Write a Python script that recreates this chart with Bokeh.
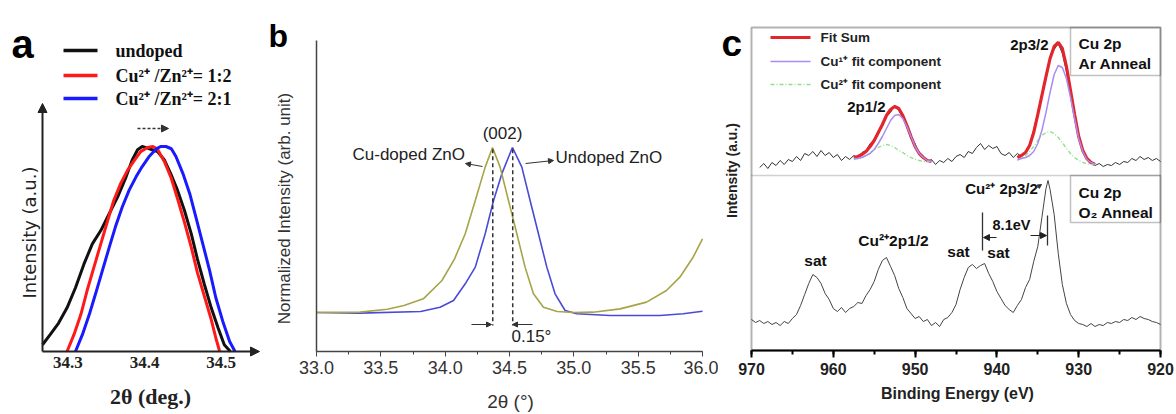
import math
from bokeh.plotting import figure
from bokeh.models import (Range1d, Label, Arrow, NormalHead, FixedTicker, LinearAxis,
                          SingleIntervalTicker, BoxAnnotation, PrintfTickFormatter)
from bokeh.layouts import row
from bokeh.embed import file_html
from bokeh.resources import INLINE

nan = float("nan")

# ---------------- panel a data ----------------
a_legend = ["undoped", "Cu²⁺ /Zn²⁺= 1:2", "Cu²⁺ /Zn²⁺= 2:1"]
a_colors = ["#111111", "#ff1a1a", "#1a1aff"]
a_ticks = [34.3, 34.4, 34.5]

a_undoped_x = [34.267, 34.277, 34.288, 34.299, 34.310, 34.321, 34.332, 34.343, 34.354, 34.365,
               34.376, 34.384, 34.391, 34.397, 34.404, 34.410, 34.417, 34.426, 34.434, 34.443,
               34.452, 34.461, 34.469, 34.478, 34.487, 34.496, 34.504, 34.512]
a_undoped_y = [0.033, 0.082, 0.139, 0.213, 0.311, 0.426, 0.525, 0.590, 0.672, 0.754,
               0.852, 0.934, 0.984, 1.000, 0.992, 0.984, 0.975, 0.934, 0.869, 0.787,
               0.689, 0.574, 0.451, 0.328, 0.213, 0.115, 0.033, 0.000]

a_12_x = [34.299, 34.308, 34.317, 34.325, 34.334, 34.343, 34.352, 34.360, 34.369, 34.378,
          34.387, 34.395, 34.404, 34.411, 34.417, 34.426, 34.435, 34.443, 34.452, 34.461,
          34.469, 34.478, 34.487, 34.493, 34.498]
a_12_y = [0.000, 0.082, 0.180, 0.295, 0.410, 0.525, 0.639, 0.738, 0.820, 0.885,
          0.934, 0.975, 0.995, 1.000, 0.987, 0.926, 0.844, 0.746, 0.631, 0.508,
          0.385, 0.270, 0.156, 0.066, 0.000]

a_21_x = [34.310, 34.319, 34.328, 34.336, 34.345, 34.354, 34.362, 34.371, 34.380, 34.389,
          34.397, 34.406, 34.415, 34.421, 34.428, 34.435, 34.441, 34.450, 34.459, 34.467,
          34.476, 34.485, 34.493, 34.502, 34.511, 34.518]
a_21_y = [0.000, 0.082, 0.180, 0.279, 0.393, 0.508, 0.607, 0.705, 0.787, 0.852,
          0.902, 0.951, 0.987, 1.000, 1.000, 0.989, 0.951, 0.869, 0.770, 0.656,
          0.525, 0.393, 0.262, 0.148, 0.049, 0.000]

# ---------------- panel b data ----------------
b_cu_x = [33.00, 33.34, 33.55, 33.68, 33.83, 33.975, 34.07, 34.156, 34.234, 34.311, 34.368,
          34.427, 34.492, 34.557, 34.621, 34.686, 34.764, 34.87, 35.00, 35.15, 35.36,
          35.565, 35.72, 35.824, 35.927, 36.00]
b_cu_y = [0.000, 0.002, 0.020, 0.042, 0.083, 0.194, 0.320, 0.477, 0.679, 0.881, 1.000,
          0.881, 0.679, 0.477, 0.275, 0.113, 0.032, 0.006, 0.000, 0.002, 0.022,
          0.063, 0.133, 0.214, 0.335, 0.446]
b_un_x = [33.00, 33.34, 33.81, 33.96, 34.065, 34.156, 34.234, 34.311, 34.376, 34.44, 34.492,
          34.523, 34.596, 34.66, 34.725, 34.79, 34.854, 34.932, 35.022, 35.281, 35.669,
          35.85, 36.00]
b_un_y = [0.000, -0.004, 0.006, 0.032, 0.073, 0.174, 0.275, 0.477, 0.679, 0.840, 0.941,
          1.000, 0.881, 0.679, 0.477, 0.275, 0.113, 0.012, -0.008, -0.018, -0.018,
          -0.008, 0.008]
b_peaks = [34.37, 34.525]
b_labels = ["Cu-doped ZnO", "Undoped ZnO", "(002)", "0.15°"]

# ---------------- panel c data ----------------
c_ar_ev = [969.0, 968.5, 968.0, 967.5, 967.0, 966.5, 966.0, 965.5, 965.0, 964.5,
           964.0, 963.5, 963.0, 962.5, 962.0, 961.5, 961.0, 960.5, 960.0, 959.5,
           959.0, 958.5, 958.0, 957.5, 957.0, 956.5, 956.0, 955.5, 955.0, 954.5,
           954.0, 953.5, 953.0, 952.5, 952.0, 951.5, 951.0, 950.5, 950.0, 949.5,
           949.0, 948.5, 948.0, 947.5, 947.0, 946.5, 946.0, 945.5, 945.0, 944.5,
           944.0, 943.5, 943.0, 942.5, 942.0, 941.5, 941.0, 940.5, 940.0, 939.5,
           939.0, 938.5, 938.0, 937.5, 937.0, 936.5, 936.0, 935.5, 935.0, 934.5,
           934.0, 933.5, 933.0, 932.5, 932.0, 931.5, 931.0, 930.5, 930.0, 929.5,
           929.0, 928.5, 928.0, 927.5, 927.0, 926.5, 926.0, 925.5, 925.0, 924.5,
           924.0, 923.5, 923.0, 922.5, 922.0, 921.5, 921.0, 920.5, 920.0]
c_ar_int = [183, 187, 182, 188, 185, 190, 186, 191, 189, 194,
            190, 197, 195, 199, 194, 200, 195, 198, 193, 196,
            190, 194, 191, 195, 193, 198, 200, 207, 210, 219,
            224, 234, 238, 245, 240, 233, 225, 212, 207, 196,
            193, 189, 191, 186, 190, 188, 192, 189, 194, 196,
            193, 199, 197, 203, 207, 201, 205, 202, 204, 197,
            195, 198, 193, 197, 194, 199, 206, 221, 238, 257,
            271, 292, 301, 307, 297, 279, 256, 235, 212, 201,
            191, 189, 185, 187, 184, 186, 185, 188, 186, 189,
            188, 192, 190, 194, 191, 193, 190, 192, 189]

c_o2_ev = [970.0, 969.5, 969.0, 968.5, 968.0, 967.5, 967.0, 966.5, 966.0, 965.5,
           965.0, 964.5, 964.0, 963.5, 963.0, 962.5, 962.0, 961.5, 961.0, 960.5,
           960.0, 959.5, 959.0, 958.5, 958.0, 957.5, 957.0, 956.5, 956.0, 955.5,
           955.0, 954.5, 954.0, 953.5, 953.0, 952.5, 952.0, 951.5, 951.0, 950.5,
           950.0, 949.5, 949.0, 948.5, 948.0, 947.5, 947.0, 946.5, 946.0, 945.5,
           945.0, 944.5, 944.0, 943.5, 943.0, 942.5, 942.0, 941.5, 941.0, 940.5,
           940.0, 939.5, 939.0, 938.5, 938.0, 937.5, 937.0, 936.5, 936.0, 935.5,
           935.0, 934.5, 934.0, 933.75, 933.5, 933.0, 932.5, 932.0, 931.5, 931.0,
           930.5, 930.0, 929.5, 929.0, 928.5, 928.0, 927.5, 927.0, 926.5, 926.0,
           925.5, 925.0, 924.5, 924.0, 923.5, 923.0, 922.5, 922.0, 921.5, 921.0,
           920.5, 920.0]
c_o2_int = [31, 28, 30, 27, 29, 26, 28, 25, 29, 27,
            32, 36, 45, 56, 67, 76, 73, 67, 57, 51,
            42, 39, 43, 38, 42, 44, 48, 47, 55, 61,
            69, 81, 90, 93, 84, 75, 62, 53, 42, 37,
            32, 34, 29, 31, 25, 28, 24, 31, 33, 38,
            46, 61, 73, 83, 86, 82, 85, 87, 77, 69,
            59, 52, 45, 41, 38, 45, 51, 63, 71, 89,
            104, 133, 162, 170, 161, 136, 97, 66, 47, 36,
            30, 27, 26, 24, 27, 24, 26, 25, 28, 27,
            29, 28, 31, 30, 33, 31, 34, 32, 31, 29,
            28, 26]

c_fit_ev = [957.5, 957.0, 956.5, 956.0, 955.5, 955.0, 954.5, 954.0, 953.5, 953.0,
            952.5, 952.0, 951.5, 951.0, 950.5, 950.0, 949.5, 949.0, 948.5, 948.0, nan,
            937.5, 937.0, 936.5, 936.0, 935.5, 935.0, 934.5, 934.0, 933.5, 933.0,
            932.5, 932.0, 931.5, 931.0, 930.5, 930.0, 929.5, 929.0, 928.5, 928.0]
c_fit_sum = [193, 194, 196, 199, 204, 210, 218, 226, 235, 241,
             244, 242, 235, 225, 214, 204, 197, 193, 190, 189, nan,
             193, 195, 198, 205, 218, 236, 255, 274, 292, 304,
             308, 302, 284, 260, 236, 214, 200, 192, 188, 186]
c_fit_cu1 = [192, 192, 193, 195, 197, 201, 207, 214, 222, 230,
             235, 236, 232, 224, 214, 204, 197, 193, 190, 189, nan,
             191, 192, 193, 195, 199, 207, 220, 238, 258, 276,
             285, 283, 272, 253, 232, 212, 199, 191, 188, 186]
c_fit_cu2 = [191, 192, 193, 195, 198, 201, 203, 205, 206, 205,
             203, 200, 198, 195, 193, 191, 190, 189, 189, 189, nan,
             190, 192, 195, 199, 204, 210, 215, 218, 219, 217,
             213, 208, 202, 197, 193, 190, 188, 187, 186, 186]
c_legend = ["Fit Sum", "Cu¹⁺ fit component", "Cu²⁺ fit component"]

SANS = "Liberation Sans"
SERIF = "Liberation Serif"
H = 412  # figure height (page has no margin in bokeh's standalone template)


def base_fig(width, x_range, y_range):
    p = figure(width=width, height=H, output_backend="svg", toolbar_location=None,
               x_range=x_range, y_range=y_range, x_axis_location=None, y_axis_location=None,
               min_border_left=0, min_border_right=0, min_border_top=0, min_border_bottom=0)
    p.grid.visible = False
    p.outline_line_color = None
    p.background_fill_color = "white"
    p.border_fill_color = "white"
    return p


def lab(p, x, y, text, size, font=SANS, style="normal", align="left",
        baseline="middle", color="#111111", angle=0.0):
    p.add_layout(Label(x=x, y=y, text=text, text_font=font, text_font_size=size,
                       text_font_style=style, text_align=align, text_baseline=baseline,
                       text_color=color, angle=angle))


def arrow(p, x0, y0, x1, y1, color, size=7, width=1.2, dash="solid"):
    p.add_layout(Arrow(end=NormalHead(size=size, fill_color=color, line_color=color),
                       x_start=x0, y_start=y0, x_end=x1, y_end=y1,
                       line_color=color, line_width=width, line_dash=dash))


# ================= panel a (page x 0..264) =================
def a_x(px):
    return 34.3 + (px - 67.3) / 767.0


def a_y(py):
    return (351.0 - py) / 205.0


pa = base_fig(264, Range1d(a_x(0), a_x(264)), Range1d(a_y(H), a_y(0)))
xa = LinearAxis(fixed_location=0.0, ticker=FixedTicker(ticks=a_ticks))
xa.axis_line_color = None
xa.major_tick_line_color = None
xa.minor_tick_line_color = None
xa.major_tick_out = 0
xa.major_tick_in = 0
xa.major_label_standoff = 5
xa.major_label_text_font = SERIF
xa.major_label_text_font_style = "bold"
xa.major_label_text_font_size = "17px"
xa.major_label_text_color = "#222222"
pa.add_layout(xa, "below")

for xs, ys, col in zip([a_undoped_x, a_12_x, a_21_x], [a_undoped_y, a_12_y, a_21_y], a_colors):
    pa.line(xs, ys, line_color=col, line_width=3)

arrow(pa, a_x(42), a_y(351), a_x(259), a_y(351), "#222222", size=9, width=2)
arrow(pa, a_x(42), a_y(351), a_x(42), a_y(103), "#222222", size=9, width=2)
arrow(pa, a_x(137), a_y(128), a_x(168), a_y(128), "#333333", size=7, width=1.5, dash="3 2")

for i, (txt, col) in enumerate(zip(a_legend, a_colors)):
    yy = a_y([50, 75, 98][i])
    pa.line([a_x(63), a_x(97)], [yy, yy], line_color=col, line_width=3.5)
    lab(pa, a_x(115), yy, txt, "18px", font=SERIF, style="bold")

lab(pa, a_x(11), a_y(43), "a", "40px", style="bold", baseline="alphabetic", color="#000000")
lab(pa, a_x(29), a_y(232), "Intensity (a.u.)", "18px", font="DejaVu Sans",
    align="center", angle=math.pi / 2, color="#222222")
lab(pa, a_x(150), a_y(396), "2θ (deg.)", "22px", font=SERIF, style="bold",
    align="center", color="#222222")

# ================= panel b (page x 264..718) =================
def b_x(px):
    return 33.0 + (px - 316.0) / 128.67


def b_y(py):
    return (312.0 - py) / 165.0


pb = base_fig(454, Range1d(b_x(264), b_x(718)), Range1d(b_y(H), b_y(0)))
xb = LinearAxis(fixed_location=b_y(351), bounds=(33.0, 36.0),
                ticker=SingleIntervalTicker(interval=0.5, num_minor_ticks=2),
                formatter=PrintfTickFormatter(format="%.1f"))
xb.axis_line_color = "#444444"
xb.axis_line_width = 1.5
xb.major_tick_line_color = "#444444"
xb.minor_tick_line_color = "#444444"
xb.major_tick_out = 5
xb.major_tick_in = 0
xb.minor_tick_out = 3
xb.minor_tick_in = 0
xb.major_label_standoff = 4
xb.major_label_text_font = SANS
xb.major_label_text_font_size = "18px"
xb.major_label_text_color = "#333333"
pb.add_layout(xb, "below")
yb = LinearAxis(fixed_location=33.0, bounds=(b_y(351), b_y(40)), ticker=FixedTicker(ticks=[]))
yb.axis_line_color = "#444444"
yb.axis_line_width = 1.5
yb.major_tick_out = 0
yb.major_tick_in = 0
yb.minor_tick_out = 0
yb.minor_tick_in = 0
yb.major_label_text_font_size = "0px"
pb.add_layout(yb, "left")

pb.line(b_un_x, b_un_y, line_color="#4a4ad8", line_width=1.6)
pb.line(b_cu_x, b_cu_y, line_color="#a6a447", line_width=1.6)

pb.segment(x0=b_peaks, y0=[0.99, 0.99], x1=b_peaks, y1=[b_y(325), b_y(325)],
           line_color="#333333", line_width=1.5, line_dash="4 3")
arrow(pb, b_x(471), b_y(324), b_x(491), b_y(324), "#333333", size=5, width=1)
arrow(pb, b_x(532), b_y(324), b_x(512), b_y(324), "#333333", size=5, width=1)
arrow(pb, b_x(482), b_y(166), b_x(465), b_y(163), "#333333", size=5, width=1)
arrow(pb, b_x(525), b_y(163), b_x(553), b_y(160), "#333333", size=5, width=1)

lab(pb, b_x(352), b_y(154), b_labels[0], "17px", color="#222222")
lab(pb, b_x(555), b_y(157), b_labels[1], "17px", color="#222222")
lab(pb, b_x(502), b_y(133), b_labels[2], "17px", align="center", color="#222222")
lab(pb, b_x(511), b_y(336), b_labels[3], "17px", color="#222222")
lab(pb, b_x(268), b_y(35), "b", "32px", style="bold", baseline="alphabetic", color="#000000")
lab(pb, b_x(284), b_y(208), "Normalized Intensity (arb. unit)", "17px",
    align="center", angle=math.pi / 2, color="#333333")
lab(pb, b_x(510), b_y(401), "2θ (°)", "19px", align="center", color="#333333")

# ================= panel c (page x 718..1174) =================
def c_x(px):
    return 970.0 - (px - 751.0) / 8.18


def c_y(py):
    return 350.0 - py


pc = base_fig(456, Range1d(c_x(718), c_x(1174)), Range1d(c_y(H), c_y(0)))
xc = LinearAxis(fixed_location=0.0, bounds=(920, 970),
                ticker=SingleIntervalTicker(interval=10, num_minor_ticks=2))
xc.axis_line_color = "#000000"
xc.axis_line_width = 2
xc.major_tick_line_color = "#000000"
xc.major_tick_line_width = 2
xc.minor_tick_line_color = "#000000"
xc.minor_tick_line_width = 2
xc.major_tick_out = 7
xc.major_tick_in = 0
xc.minor_tick_out = 4
xc.minor_tick_in = 0
xc.major_label_standoff = 5
xc.major_label_text_font = SANS
xc.major_label_text_font_style = "bold"
xc.major_label_text_font_size = "16px"
xc.major_label_text_color = "#222222"
pc.add_layout(xc, "below")

pc.add_layout(BoxAnnotation(left=970, right=920, bottom=0, top=323,
                            fill_alpha=0, line_color="#000000", line_width=2))
pc.add_layout(BoxAnnotation(left=970, right=920, bottom=175, top=175.01,
                            fill_alpha=0, line_color="#666666", line_width=1.5))
pc.add_layout(BoxAnnotation(left=c_x(1070), right=920, bottom=c_y(75), top=323,
                            fill_alpha=0, line_color="#333333", line_width=1.5))
pc.add_layout(BoxAnnotation(left=c_x(1070), right=920, bottom=c_y(222), top=175,
                            fill_alpha=0, line_color="#333333", line_width=1.5))

pc.line(c_ar_ev, c_ar_int, line_color="#333333", line_width=1)
pc.line(c_o2_ev, c_o2_int, line_color="#444444", line_width=1)
pc.line(c_fit_ev, c_fit_sum, line_color="#e3262b", line_width=3.2)
pc.line(c_fit_ev, c_fit_cu2, line_color="#8ee08e", line_width=1.3, line_dash="4 2 1 2")
pc.line(c_fit_ev, c_fit_cu1, line_color="#a98cf2", line_width=1.5)

leg_styles = [("#e3262b", 3.2, "solid"), ("#a98cf2", 1.5, "solid"), ("#8ee08e", 1.3, "4 2 1 2")]
for i, (txt, (col, w, dash)) in enumerate(zip(c_legend, leg_styles)):
    yy = c_y([37, 61, 84][i])
    pc.line([c_x(770), c_x(810)], [yy, yy], line_color=col, line_width=w, line_dash=dash)
    lab(pc, c_x(820), yy, txt, "13.5px", style="bold", color="#222222")

lab(pc, c_x(1048), c_y(44), "2p3/2", "15px", style="bold", align="right")
lab(pc, c_x(885), c_y(106), "2p1/2", "15px", style="bold", align="right")
lab(pc, c_x(815), c_y(260), "sat", "15.5px", style="bold", align="center")
lab(pc, c_x(893), c_y(240), "Cu²⁺2p1/2", "15.5px", style="bold", align="center")
lab(pc, c_x(958), c_y(251), "sat", "15.5px", style="bold", align="center")
lab(pc, c_x(998), c_y(252), "sat", "15.5px", style="bold", align="center")
lab(pc, c_x(1001), c_y(188), "Cu²⁺ 2p3/2", "15px", style="bold", align="center")
lab(pc, c_x(1011), c_y(224), "8.1eV", "14.5px", style="bold", align="center")
arrow(pc, c_x(1035), c_y(188), c_x(1041), c_y(184), "#333333", size=4, width=1)

pc.segment(x0=[c_x(982), c_x(1047)], y0=[c_y(250), c_y(245)],
           x1=[c_x(982), c_x(1047)], y1=[c_y(212), c_y(215)],
           line_color="#333333", line_width=1.3)
arrow(pc, c_x(996), c_y(237), c_x(983), c_y(237), "#222222", size=6, width=1.2)
arrow(pc, c_x(1030), c_y(235), c_x(1046), c_y(235), "#222222", size=6, width=1.2)

lab(pc, c_x(1078), c_y(43), "Cu 2p", "15.5px", style="bold")
lab(pc, c_x(1078), c_y(63), "Ar Anneal", "15.5px", style="bold")
lab(pc, c_x(1078), c_y(192), "Cu 2p", "15.5px", style="bold")
lab(pc, c_x(1078), c_y(212), "O₂ Anneal", "15.5px", style="bold")

lab(pc, c_x(721), c_y(43), "c", "37px", style="bold", baseline="alphabetic", color="#000000")
lab(pc, c_x(731), c_y(170), "Intensity (a.u.)", "14px", style="bold",
    align="center", angle=math.pi / 2, color="#222222")
lab(pc, c_x(957), c_y(393), "Binding Energy (eV)", "16px", style="bold",
    align="center", color="#222222")

layout = row(pa, pb, pc)
open("out.html", "w").write(file_html(layout, INLINE))
